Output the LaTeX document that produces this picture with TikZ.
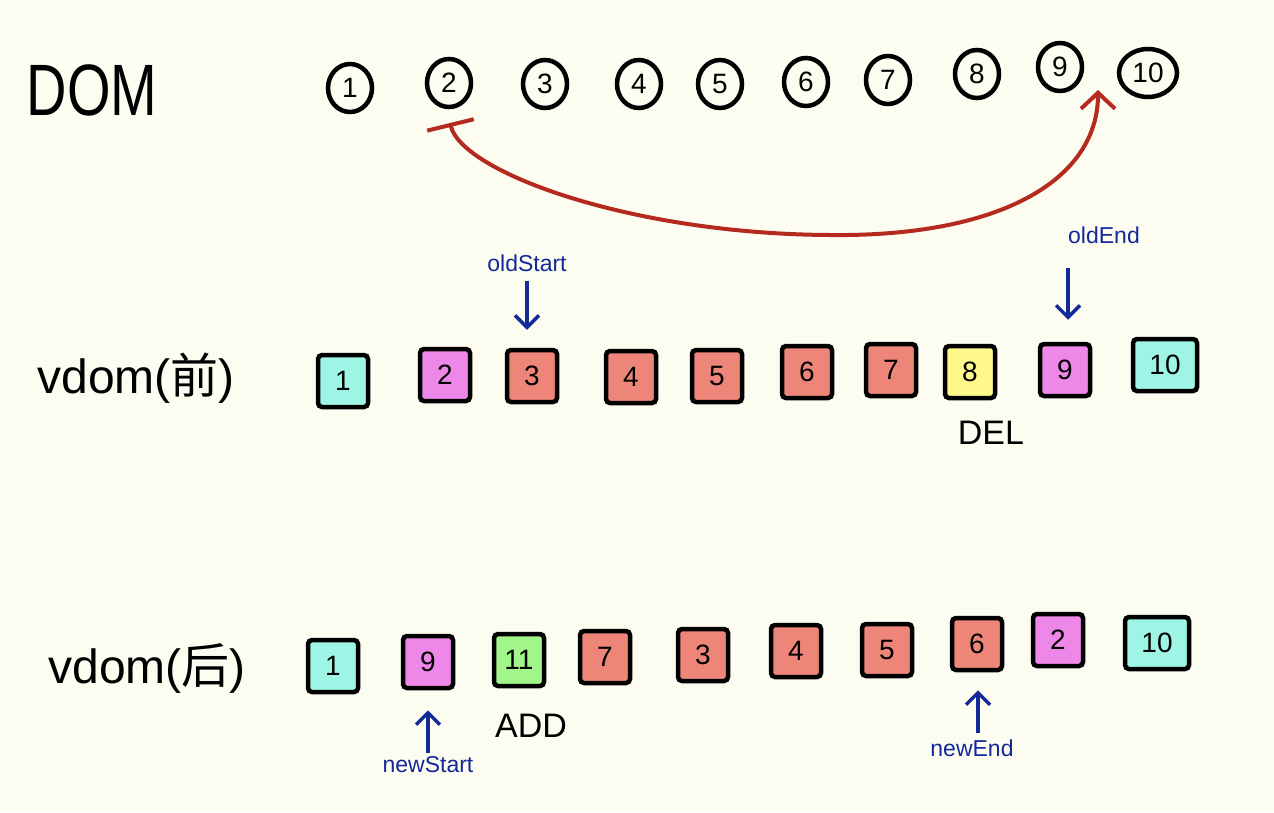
\documentclass[tikz,border=0pt]{standalone}
\usepackage{fontspec}
\setmainfont{Liberation Sans}
\newfontfamily\cjk{Noto Sans CJK SC}
\usetikzlibrary{shapes.geometric,arrows.meta}
\definecolor{bg}{HTML}{FDFCF0}
\definecolor{cy}{HTML}{9EF5E6}
\definecolor{mg}{HTML}{EE88E8}
\definecolor{sa}{HTML}{EE8579}
\definecolor{ye}{HTML}{FFF88A}
\definecolor{gr}{HTML}{A2F58A}
\definecolor{rd}{HTML}{B52A1E}
\definecolor{bl}{HTML}{13299A}
\tikzset{
  dnode/.style={ellipse,draw=black,line width=4.5pt,minimum width=44pt,minimum height=48pt,inner sep=0pt,font=\fontsize{28}{28}\selectfont},
  vbox/.style={draw=black,line width=4.5pt,rounded corners=4pt,minimum width=50pt,minimum height=52pt,inner sep=0pt,font=\fontsize{28}{28}\selectfont},
  wbox/.style={vbox,minimum width=64pt},
  big/.style={font=\fontsize{48}{48}\selectfont},
  bluelbl/.style={text=bl,font=\fontsize{23}{23}\selectfont},
  bluearr/.style={draw=bl,line width=3.5pt,-{Straight Barb[length=12pt,width=24pt]}},
  redarr/.style={draw=rd,line width=4pt,{Bar[width=48pt,line width=4pt]}-{Straight Barb[length=16pt,width=34pt]}},
}
\begin{document}
\begin{tikzpicture}[x=1pt,y=-1pt]
\fill[bg] (0,0) rectangle (1274,812);
\useasboundingbox (0,0) rectangle (1274,812);
% DOM row
\node[font=\fontsize{56}{56}\selectfont,yscale=1.3,transform shape] (dom) at (92,90) {DOM};
\node[dnode] (c1) at (350,88) {1};
\node[dnode] (c2) at (449,83) {2};
\node[dnode] (c3) at (545,84) {3};
\node[dnode] (c4) at (639,84) {4};
\node[dnode] (c5) at (720,84) {5};
\node[dnode] (c6) at (806,82) {6};
\node[dnode] (c7) at (888,80) {7};
\node[dnode] (c8) at (977,74) {8};
\node[dnode] (c9) at (1060,67) {9};
\node[dnode,minimum width=58pt] (c10) at (1148,73) {10};
\coordinate (rs) at (450,123);
\coordinate (rm) at (830,235);
\coordinate (rt) at (1098,90);
\draw[redarr] (rs) .. controls (462,172) and (630,234) .. (rm) .. controls (1000,237) and (1098,180) .. (rt);
% vdom before
\node[big] (v1) at (136,378) {vdom({\cjk 前})};
\node[vbox,fill=cy] (a1) at (343,381) {1};
\node[vbox,fill=mg] (a2) at (445,375) {2};
\node[vbox,fill=sa] (a3) at (532,376) {3};
\node[vbox,fill=sa] (a4) at (631,377) {4};
\node[vbox,fill=sa] (a5) at (717,376) {5};
\node[vbox,fill=sa] (a6) at (807,372) {6};
\node[vbox,fill=sa] (a7) at (891,370) {7};
\node[vbox,fill=ye] (a8) at (970,372) {8};
\node[vbox,fill=mg] (a9) at (1065,370) {9};
\node[wbox,fill=cy] (a10) at (1165,365) {10};
\node[font=\fontsize{34}{34}\selectfont] (del) at (991,433) {DEL};
\node[bluelbl] (os) at (527,263) {oldStart};
\draw[bluearr] ([yshift=-6pt]os.south) -- ([yshift=18pt]os.south |- a3.north);
\node[bluelbl] (oe) at (1104,235) {oldEnd};
\coordinate (oet) at (1068,268);
\draw[bluearr] (oet) -- ([yshift=22pt]oet |- a9.north);
% vdom after
\node[big] (v2) at (147,668) {vdom({\cjk 后})};
\node[vbox,fill=cy] (b1) at (333,666) {1};
\node[vbox,fill=mg] (b2) at (428,662) {9};
\node[vbox,fill=gr] (b3) at (519,660) {11};
\node[vbox,fill=sa] (b4) at (605,657) {7};
\node[vbox,fill=sa] (b5) at (703,655) {3};
\node[vbox,fill=sa] (b6) at (796,651) {4};
\node[vbox,fill=sa] (b7) at (887,650) {5};
\node[vbox,fill=sa] (b8) at (977,644) {6};
\node[vbox,fill=mg] (b9) at (1058,640) {2};
\node[wbox,fill=cy] (b10) at (1157,643) {10};
\node[font=\fontsize{34}{34}\selectfont] (add) at (531,726) {ADD};
\node[bluelbl] (ns) at (428,765) {newStart};
\draw[bluearr] ([yshift=0pt]ns.north) -- ([yshift=-20pt]ns.north |- b2.south);
\node[bluelbl] (ne) at (972,748) {newEnd};
\coordinate (net) at (978,733);
\draw[bluearr] (net) -- ([yshift=-18pt]net |- b8.south);
\end{tikzpicture}
\end{document}
